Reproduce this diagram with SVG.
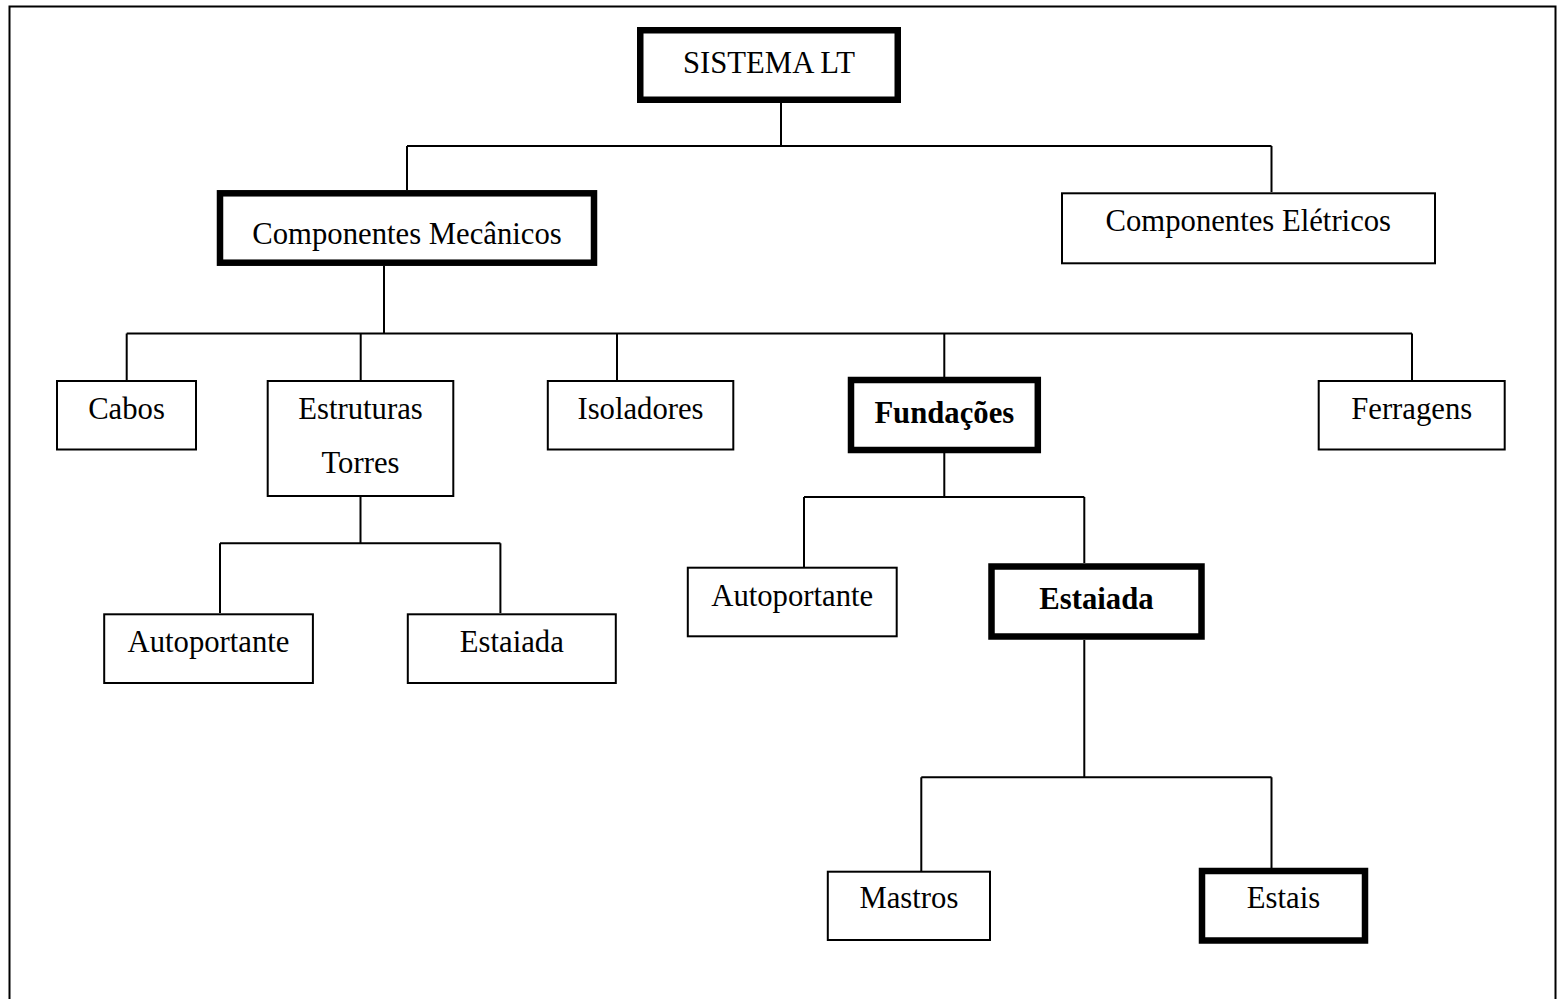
<svg xmlns="http://www.w3.org/2000/svg" width="1557" height="999" viewBox="0 0 1557 999">
  <style>
    .frame { fill: none; stroke: #000; stroke-width: 2; }
    .box { fill: #fff; stroke: #000; stroke-width: 2; }
    .box-strong { fill: #fff; stroke: #000; stroke-width: 6.5; }
    .label { font-family: "Liberation Serif", "Times New Roman", serif; font-size: 30.7px; fill: #000; text-anchor: middle; }
    .label-bold { font-weight: bold; }
    .wire { fill: none; stroke: #000; stroke-width: 2; }
  </style>
  <rect width="1557" height="999" fill="#fff"/>
  <!-- page frame -->
  <rect class="frame" x="9.5" y="6.5" width="1546" height="1000"/>

  <!-- tree connectors -->
  <g id="connectors">
    <path class="wire" d="M781 103 V146 M407 146 H1271.5 M407 146 V190 M1271.5 146 V192"/>
    <path class="wire" d="M384 266 V333.5 M126.7 333.5 H1412 M126.7 333.5 V380 M360.7 333.5 V380 M617 333.5 V380 M944.3 333.5 V377 M1412 333.5 V380"/>
    <path class="wire" d="M360.5 497 V543.3 M220 543.3 H500.4 M220 543.3 V613 M500.4 543.3 V613"/>
    <path class="wire" d="M944.3 453 V497 M804 497 H1084.3 M804 497 V567 M1084.3 497 V563"/>
    <path class="wire" d="M1084.3 640 V777.3 M921.3 777.3 H1271.5 M921.3 777.3 V871 M1271.5 777.3 V868"/>
  </g>

  <g id="node-sistema-lt">
    <rect class="box-strong" x="640.25" y="30.25" width="257.5" height="69.5"/>
    <text class="label" x="769" y="72.7">SISTEMA LT</text>
  </g>

  <g id="node-componentes-mecanicos">
    <rect class="box-strong" x="220" y="193.3" width="374" height="69.4"/>
    <text class="label" x="407" y="244">Componentes Mecânicos</text>
  </g>

  <g id="node-componentes-eletricos">
    <rect class="box" x="1062" y="193.3" width="373" height="70"/>
    <text class="label" x="1248.3" y="231">Componentes Elétricos</text>
  </g>

  <g id="node-cabos">
    <rect class="box" x="57" y="381" width="139" height="68.5"/>
    <text class="label" x="126.5" y="419.3">Cabos</text>
  </g>

  <g id="node-estruturas-torres">
    <rect class="box" x="267.7" y="381" width="185.6" height="115"/>
    <text class="label" x="360.5" y="419">Estruturas</text>
    <text class="label" x="360.5" y="472.7">Torres</text>
  </g>

  <g id="node-isoladores">
    <rect class="box" x="547.8" y="381" width="185.5" height="68.5"/>
    <text class="label" x="640.5" y="418.5">Isoladores</text>
  </g>

  <g id="node-fundacoes">
    <rect class="box-strong" x="851" y="380" width="186.8" height="70"/>
    <text class="label label-bold" x="944.3" y="422.7">Fundações</text>
  </g>

  <g id="node-ferragens">
    <rect class="box" x="1318.7" y="381" width="186" height="68.5"/>
    <text class="label" x="1411.7" y="419">Ferragens</text>
  </g>

  <g id="node-torre-autoportante">
    <rect class="box" x="104.2" y="614.3" width="208.7" height="68.7"/>
    <text class="label" x="208.5" y="651.7">Autoportante</text>
  </g>

  <g id="node-torre-estaiada">
    <rect class="box" x="407.8" y="614.3" width="208" height="68.7"/>
    <text class="label" x="511.8" y="651.7">Estaiada</text>
  </g>

  <g id="node-fundacao-autoportante">
    <rect class="box" x="687.8" y="567.7" width="208.9" height="68.6"/>
    <text class="label" x="792.2" y="605.7">Autoportante</text>
  </g>

  <g id="node-fundacao-estaiada">
    <rect class="box-strong" x="991.5" y="566.5" width="210" height="70"/>
    <text class="label label-bold" x="1096.5" y="609.3">Estaiada</text>
  </g>

  <g id="node-mastros">
    <rect class="box" x="827.8" y="871.7" width="162.2" height="68.3"/>
    <text class="label" x="908.9" y="908.3">Mastros</text>
  </g>

  <g id="node-estais">
    <rect class="box-strong" x="1202" y="871" width="163" height="69.5"/>
    <text class="label" x="1283.5" y="907.7">Estais</text>
  </g>
</svg>
